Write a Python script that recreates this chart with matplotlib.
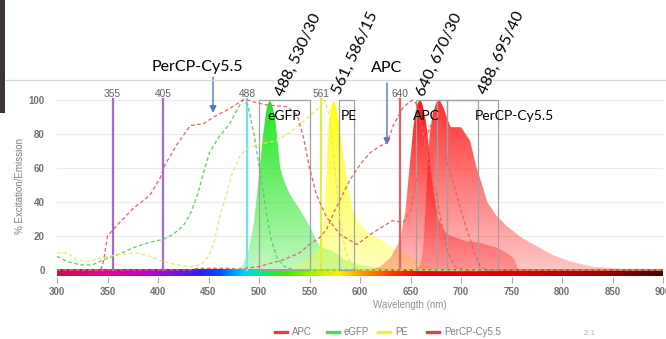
import matplotlib.pyplot as plt
import numpy as np
from matplotlib.colors import LinearSegmentedColormap, to_rgb
from matplotlib.patches import Polygon, Rectangle
from matplotlib.lines import Line2D

# ---- spectra (wavelength in nm, % of max) ----
egfp_ex_nm = [300, 310, 323, 335, 346, 360, 375, 390, 405, 415, 425, 432, 439, 445, 451, 460, 471, 478,
              484, 489, 495, 501, 507, 512, 518, 525, 535, 900]
egfp_ex = [8, 5, 3, 3, 6, 9, 13, 16, 18, 21, 26, 33, 44, 57, 69, 78, 86, 94,
           100, 97, 80, 58, 35, 18, 7, 2, 0, 0]

egfp_em_nm = [470, 480, 484, 490, 495, 499, 504, 507, 509, 511, 513, 516, 519, 521, 525, 531, 540, 550,
              560, 573, 585, 600, 620, 640]
egfp_em = [0, 1, 3, 12, 28, 50, 79, 93, 98, 100, 97, 89, 72, 60, 52, 44, 36, 26,
           14, 11, 6, 3, 1, 0]

pe_ex_nm = [300, 310, 320, 330, 343, 360, 379, 392, 405, 420, 432, 442, 450, 455, 461, 468, 474, 482,
            490, 500, 516, 531, 545, 557, 565, 570, 575, 580, 586, 592, 600, 900]
pe_ex = [10, 10, 6, 5, 7, 9, 10, 8, 5, 3, 2, 3, 8, 15, 31, 45, 58, 68,
         72, 74, 76, 81, 88, 94, 100, 90, 60, 30, 10, 3, 0, 0]

pe_em_nm = [530, 540, 550, 558, 562, 565, 567, 569, 571, 573, 575, 577, 580, 584, 587, 590, 593, 598,
            603, 610, 620, 630, 637, 646, 656, 669, 680]
pe_em = [0, 3, 7, 12, 18, 35, 60, 85, 95, 99, 99, 94, 82, 65, 53, 43, 35, 29,
         25, 21, 18, 14, 12, 9, 6, 2, 0]

apc_ex_nm = [300, 430, 440, 468, 480, 500, 512, 524, 540, 550, 560, 567, 575, 590, 600, 610, 620, 627,
             633, 643, 652, 657, 662, 666, 671, 676, 681, 686, 691, 696, 705, 900]
apc_ex = [0, 0, 1, 1, 0.5, 2, 4, 6, 10, 15, 19, 24, 35, 53, 62, 69, 73, 75,
          85, 96, 100, 97, 82, 70, 55, 43, 27, 12, 5, 1, 0, 0]

apc_em_nm = [610, 620, 630, 640, 645, 649, 653, 656, 658, 660, 662, 665, 667, 670, 672, 677, 681, 686,
             695, 705, 719, 730, 736, 745, 752, 755, 757]
apc_em = [0, 2, 7, 18, 35, 60, 85, 96, 99, 100, 97, 88, 80, 60, 50, 31, 26, 21,
          19, 17, 16, 14, 13, 10, 7, 3, 0]

percp_ex_nm = [300, 343, 346, 350, 359, 375, 392, 402, 407, 419, 432, 445, 455, 471, 484, 488, 494, 508,
               528, 538, 544, 550, 557, 567, 580, 597, 613, 632, 643, 650, 657, 664, 670, 677,
               683, 687, 693, 699, 704, 709, 714, 719, 725, 900]
percp_ex = [0, 0, 5, 20, 26, 36, 44, 54, 62, 74, 85, 86, 90, 95, 100, 100, 99, 97,
            96, 91, 78, 60, 44, 31, 21, 15, 22, 29, 28, 35, 55, 75, 85, 87,
            75, 62, 50, 37, 27, 18, 9, 2, 0, 0]

percp_em_nm = [655, 660, 663, 666, 669, 672, 676, 679, 683, 687, 690, 700, 709, 715, 721, 726, 735, 745,
               760, 778, 790, 808, 830, 853, 870]
percp_em = [0, 3, 15, 50, 80, 92, 99, 100, 95, 88, 84, 84, 76, 61, 50, 40, 32, 26,
            19, 13, 9, 5, 2, 1, 0]

laser_nm = [355, 405, 488, 561, 640]
laser_labels = ['355', '405', '488', '561', '640']
laser_colors = ['#a46bc8', '#9c6ddc', '#6fe4f0', '#dcee44', '#e06464']

filter_lo = [500, 579, 655, 676, 686]
filter_hi = [550, 594, 686, 717, 737]

x_ticks = [300, 350, 400, 450, 500, 550, 600, 650, 700, 750, 800, 850, 900]
y_ticks = [0, 20, 40, 60, 80, 100]

legend_labels = ['APC', 'eGFP', 'PE', 'PerCP-Cy5.5']
legend_colors = ['#e8403c', '#44dd44', '#eeee44', '#e8403c']

# ---- layout, in pixels of the 666x339 picture ----
W, H = 666, 339


def fx(p):
    return p / W


def fy(p):
    return 1 - p / H


fig = plt.figure(figsize=(W / 100, H / 100), dpi=100)
ax = fig.add_axes([fx(57), fy(277), (663 - 57) / W, (277 - 80) / H])
ax.set_xlim(300, 900)
ax.set_ylim((270 - 277) / 1.7, (270 - 80) / 1.7)
for s in ax.spines.values():
    s.set_visible(False)

# grid
for v in y_ticks:
    ax.axhline(v, color='#ebebeb', lw=0.8, zorder=0)

# wavelength colour bar under the axis
stops = [(300, '#c0104e'), (340, '#de0a8c'), (380, '#c800c8'), (410, '#8a10e0'), (440, '#3020f0'),
         (460, '#0050ff'), (485, '#00d0ff'), (505, '#00f070'), (525, '#30f000'), (560, '#c8f000'),
         (580, '#ffee00'), (600, '#ffa000'), (630, '#ff4000'), (660, '#f00000'), (760, '#d80000'),
         (850, '#9a0000'), (900, '#4a0000')]
cmap = LinearSegmentedColormap.from_list('wl', [((n - 300) / 600, c) for n, c in stops])
ax.imshow(np.linspace(0, 1, 600)[None, :], cmap=cmap, aspect='auto',
          extent=[300, 900, -3.6, 0], zorder=1, interpolation='bilinear')


def gradient_fill(xs, ys, color, z):
    rgb = to_rgb(color)
    ny = 200
    img = np.zeros((ny, 1, 4))
    img[:, 0, :3] = rgb
    img[:, 0, 3] = 0.28 + 0.72 * np.linspace(0, 1, ny)
    verts = np.column_stack([np.r_[xs, xs[::-1]], np.r_[ys, np.zeros(len(ys))]])
    poly = Polygon(verts, closed=True, facecolor='none', edgecolor='none')
    ax.add_patch(poly)
    im = ax.imshow(img, extent=[300, 900, 0, 100], origin='lower', aspect='auto',
                   zorder=z, interpolation='bilinear')
    im.set_clip_path(poly)


gradient_fill(egfp_em_nm, egfp_em, '#1fe61f', 2)
gradient_fill(pe_em_nm, pe_em, '#ffff10', 2.1)
gradient_fill(percp_em_nm, percp_em, '#ff3030', 2.2)
gradient_fill(apc_em_nm, apc_em, '#ff1414', 2.3)

# filter boxes
for lo, hi in zip(filter_lo, filter_hi):
    ax.add_patch(Rectangle((lo, 0), hi - lo, 100, fill=False, edgecolor='#a0a0a0', lw=0.9, zorder=3))

# laser lines
for nm, lab, c in zip(laser_nm, laser_labels, laser_colors):
    ax.plot([nm, nm], [0, 100.5], color=c, lw=1.6, zorder=4)
    ax.text(nm, 103.5, lab, ha='center', va='center', fontsize=7.3, color='#606060',
            family='Liberation Sans', clip_on=False)

# excitation curves, dashed
dash = (0, (3, 2))
ax.plot(egfp_ex_nm, egfp_ex, color='#5ccc5c', lw=0.9, ls=dash, zorder=5)
ax.plot(pe_ex_nm, pe_ex, color='#e8e866', lw=0.9, ls=dash, zorder=5)
ax.plot(apc_ex_nm, apc_ex, color='#e06464', lw=0.9, ls=dash, zorder=5)
ax.plot(percp_ex_nm, percp_ex, color='#e06464', lw=0.9, ls=dash, zorder=5)

# axes text
ax.set_xticks(x_ticks)
ax.set_xticklabels([str(t) for t in x_ticks])
ax.set_yticks(y_ticks)
ax.set_yticklabels([str(t) for t in y_ticks])
ax.tick_params(axis='x', length=4, color='#aaaaaa', pad=3, labelsize=7, labelcolor='#707070')
ax.tick_params(axis='y', length=0, pad=9, labelsize=7, labelcolor='#707070')
for t in ax.get_xticklabels() + ax.get_yticklabels():
    t.set_family('Liberation Sans')
    t.set_fontweight('bold')

fig.text(fx(20), fy(186), '% Excitation/Emission', rotation=90, ha='center', va='center',
         fontsize=7, color='#808080', family='Liberation Sans')
fig.text(fx(410), fy(305), 'Wavelength (nm)', ha='center', va='center',
         fontsize=7, color='#909090', family='Liberation Sans')

# legend drawn by hand
leg_x = [275, 327, 378, 427]
for px, lab, c in zip(leg_x, legend_labels, legend_colors):
    fig.add_artist(Line2D([fx(px), fx(px + 12)], [fy(332), fy(332)], color=c, lw=2.4))
    fig.text(fx(px + 17), fy(332), lab, ha='left', va='center', fontsize=7, color='#808080',
             family='Liberation Sans')
fig.text(fx(584), fy(333), '2 1', ha='left', va='center', fontsize=5, color='#aaaaaa')

# screenshot frame bits
fig.add_artist(Line2D([fx(5), 1], [fy(80), fy(80)], color='#d6d6d6', lw=0.9))
fig.add_artist(Rectangle((0, fy(113)), fx(5), 1 - fy(113), color='#3a3438', lw=0))

# annotations laid over the chart
ann = dict(family='Lato', color='black')
fig.text(fx(197), fy(71), 'PerCP-Cy5.5', ha='center', va='baseline', fontsize=11.5, **ann)
fig.text(fx(387), fy(72), 'APC', ha='center', va='baseline', fontsize=11.5, **ann)

arrow = dict(arrowstyle='-|>', color='#4a78c8', lw=1.0, mutation_scale=10, shrinkA=0, shrinkB=0)
ax.annotate('', xy=(454.5, 92.4), xytext=(454.5, 113.5), arrowprops=arrow, annotation_clip=False)
ax.annotate('', xy=(626.7, 73.5), xytext=(626.7, 110.0), arrowprops=arrow, annotation_clip=False)

rot_labels = ['488, 530/30', '561, 586/15', '640, 670/30', '488, 695/40']
rot_px = [(283, 97), (340, 95), (424, 97), (486, 95)]
for lab, (px, py) in zip(rot_labels, rot_px):
    fig.text(fx(px), fy(py), lab, rotation=65, rotation_mode='anchor', ha='left', va='baseline',
             fontsize=11.5, **ann)

in_labels = ['eGFP', 'PE', 'APC', 'PerCP-Cy5.5']
in_x = [507.9, 581.2, 652.5, 713.9]
for lab, xx in zip(in_labels, in_x):
    ax.text(xx, 88.2, lab, ha='left', va='baseline', fontsize=10, zorder=8, **ann)

fig.savefig('out.png', dpi=100)
